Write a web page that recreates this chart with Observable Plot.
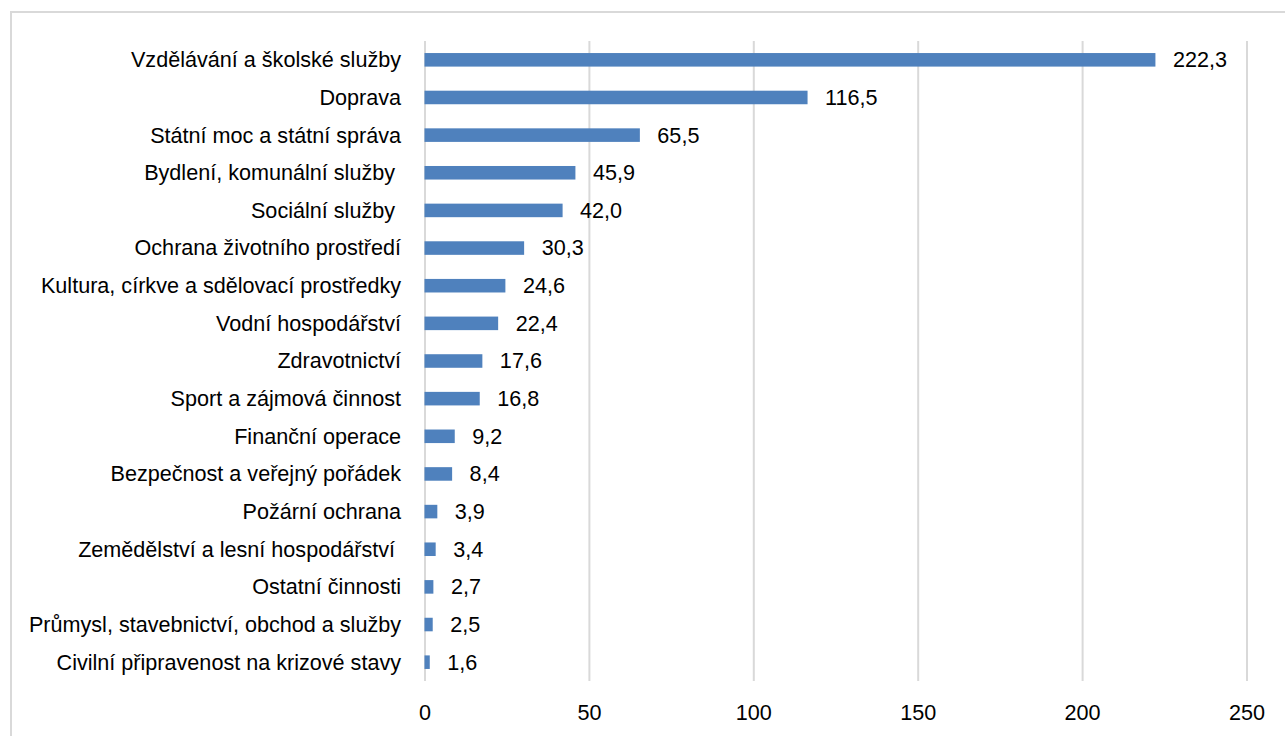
<!DOCTYPE html>
<html>
<head>
<meta charset="utf-8">
<script src="https://cdn.jsdelivr.net/npm/d3@7"></script>
<script src="https://cdn.jsdelivr.net/npm/@observablehq/plot@0.6"></script>
<style>
  html, body { margin: 0; padding: 0; background: #fff; overflow: hidden; }
  #frame { position: absolute; left: 10px; top: 11px; width: 1300px; height: 800px; border: 2px solid #d9d9d9; box-sizing: border-box; }
  #chart { position: absolute; left: 0; top: 0; }
</style>
</head>
<body>
<div id="frame"></div>
<div id="chart"></div>
<script>
const categories = [
  "Vzdělávání a školské služby",
  "Doprava",
  "Státní moc a státní správa",
  "Bydlení, komunální služby\u00a0",
  "Sociální služby\u00a0",
  "Ochrana životního prostředí",
  "Kultura, církve a sdělovací prostředky",
  "Vodní hospodářství",
  "Zdravotnictví",
  "Sport a zájmová činnost",
  "Finanční operace",
  "Bezpečnost a veřejný pořádek",
  "Požární ochrana",
  "Zemědělství a lesní hospodářství\u00a0",
  "Ostatní činnosti",
  "Průmysl, stavebnictví, obchod a služby",
  "Civilní připravenost na krizové stavy"
];
const values = [222.3, 116.5, 65.5, 45.9, 42.0, 30.3, 24.6, 22.4, 17.6, 16.8, 9.2, 8.4, 3.9, 3.4, 2.7, 2.5, 1.6];
const xTicks = [0, 50, 100, 150, 200, 250];

const data = categories.map((c, i) => ({category: c, value: values[i]}));
const fmt = v => d3.format(".1f")(v).replace(".", ",");

const chart = Plot.plot({
  width: 1285,
  height: 736,
  marginLeft: 424.5,
  marginRight: 38.5,
  marginTop: 41,
  marginBottom: 55,
  style: {fontFamily: "'Liberation Sans', Arial, sans-serif", fontSize: "21.6px", color: "#000", background: "transparent"},
  x: {domain: [0, 250], ticks: xTicks, label: null, tickSize: 0, tickPadding: 23, tickFormat: d => String(d)},
  y: {domain: categories, label: null, tickSize: 0, tickPadding: 24, paddingInner: 0.64, paddingOuter: 0.32, round: false},
  marks: [
    Plot.ruleX(xTicks, {stroke: "#d9d9d9", strokeWidth: 2}),
    Plot.barX(data, {x: "value", y: "category", fill: "#4f81bd"}),
    Plot.text(data, {x: "value", y: "category", text: d => fmt(d.value), textAnchor: "start", dx: 17, fill: "#000", fontSize: 21.6})
  ]
});
document.getElementById("chart").appendChild(chart);
</script>
</body>
</html>
